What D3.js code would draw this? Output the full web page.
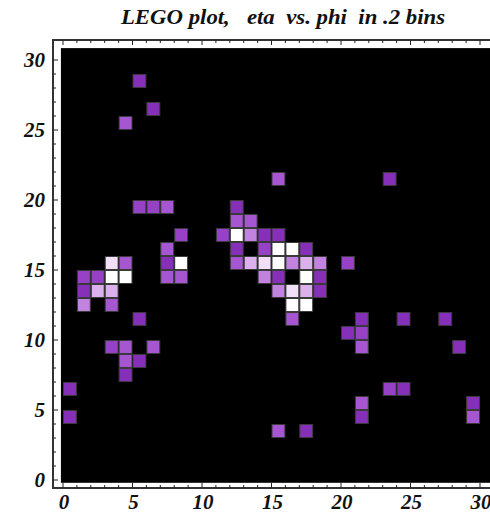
<!DOCTYPE html>
<html>
<head>
<meta charset="utf-8">
<script src="https://cdn.jsdelivr.net/npm/d3@7"></script>
<style>
  html, body { margin: 0; padding: 0; background: #fff; }
  svg { display: block; }
  .lbl { font-family: "Liberation Serif", "DejaVu Serif", serif; font-weight: bold; font-style: italic; }
</style>
</head>
<body>
<svg id="chart" width="490" height="513"></svg>
<script>
// Occupied (phi, eta) bins and their hit level (1 = dark purple ... 7 = white)
const phiBins = [5, 6, 4, 5, 6, 7, 8, 11, 12, 12, 13,
  12, 13, 14, 15,
  7, 12, 14, 15, 16, 17,
  3, 4, 7, 8, 12, 13, 14, 15, 16, 17, 18, 20,
  1, 2, 3, 4, 7, 8, 14, 15, 17, 18,
  1, 2, 3, 15, 16, 17, 18,
  1, 3, 16, 17,
  5, 16, 21, 24, 27,
  20, 21,
  3, 4, 6, 21, 28,
  4, 5,
  4,
  0, 23, 24,
  21, 29,
  0, 21, 29,
  15, 17,
  15, 23];
const etaBins = [28, 26, 25, 19, 19, 19, 17, 17, 19, 18, 18,
  17, 17, 17, 17,
  16, 16, 16, 16, 16, 16,
  15, 15, 15, 15, 15, 15, 15, 15, 15, 15, 15, 15,
  14, 14, 14, 14, 14, 14, 14, 14, 14, 14,
  13, 13, 13, 13, 13, 13, 13,
  12, 12, 12, 12,
  11, 11, 11, 11, 11,
  10, 10,
  9, 9, 9, 9, 9,
  8, 8,
  7,
  6, 6, 6,
  5, 5,
  4, 4, 4,
  3, 3,
  21, 21];
const levels = [1, 1, 3, 2, 2, 3, 2, 2, 1, 3, 3,
  7, 4, 1, 1,
  3, 1, 2, 7, 7, 1,
  6, 3, 1, 7, 3, 5, 6, 7, 4, 5, 4, 2,
  2, 2, 7, 7, 3, 3, 4, 1, 7, 1,
  1, 5, 5, 4, 6, 5, 1,
  4, 3, 7, 7,
  1, 3, 1, 1, 1,
  1, 2,
  2, 3, 3, 3, 1,
  3, 1,
  1,
  1, 2, 1,
  3, 1,
  1, 1, 3,
  3, 1,
  3, 1];
const xTickLabels = [0, 5, 10, 15, 20, 25, 30];
const yTickLabels = [0, 5, 10, 15, 20, 25, 30];
const title = "LEGO plot,   eta  vs. phi  in .2 bins";

const cells = phiBins.map((p, i) => ({ phi: p, eta: etaBins[i], level: levels[i] }));

const svg = d3.select("#chart");
const x = d3.scaleLinear().domain([0, 30]).range([63, 480]);
const y = d3.scaleLinear().domain([0, 30]).range([480, 60]);

const color = d3.scaleOrdinal()
  .domain([1, 2, 3, 4, 5, 6, 7])
  .range(["#8630ba", "#9641c6", "#a656d1", "#c283df", "#dcb0ec", "#f1def9", "#ffffff"]);

// frame
const frameLeft = 53, frameTop = 40, frameBottom = 488, frameRight = 498;
svg.append("rect")
  .attr("x", frameLeft).attr("y", frameTop)
  .attr("width", frameRight - frameLeft).attr("height", frameBottom - frameTop)
  .attr("fill", "#fff").attr("stroke", "#333").attr("stroke-width", 2);

// black plotting field
svg.append("rect")
  .attr("x", x(-0.15)).attr("y", y(30.85))
  .attr("width", x(31) - x(-0.15)).attr("height", y(-0.2) - y(30.85))
  .attr("fill", "#000");

// bins
svg.append("g").selectAll("rect")
  .data(cells)
  .join("rect")
  .attr("x", d => x(d.phi) + 0.5)
  .attr("y", d => y(d.eta + 1) + 0.5)
  .attr("width", d => x(d.phi + 1) - x(d.phi) - 1)
  .attr("height", d => y(d.eta) - y(d.eta + 1) - 1)
  .attr("fill", d => color(d.level))
  .attr("stroke", "#3a3a3a")
  .attr("stroke-width", 1);

// ticks on the frame, pointing inward
const ticks = d3.range(0, 31);
const tg = svg.append("g").attr("stroke", "#222").attr("stroke-width", 1);
ticks.forEach(t => {
  const len = t % 5 === 0 ? 5 : 3;
  tg.append("line").attr("x1", x(t)).attr("x2", x(t)).attr("y1", frameTop).attr("y2", frameTop + len);
  tg.append("line").attr("x1", x(t)).attr("x2", x(t)).attr("y1", frameBottom).attr("y2", frameBottom - len);
  tg.append("line").attr("y1", y(t)).attr("y2", y(t)).attr("x1", frameLeft).attr("x2", frameLeft + len);
});

// tick labels
svg.append("g").selectAll("text")
  .data(xTickLabels)
  .join("text")
  .attr("class", "lbl")
  .attr("x", d => x(d) + 1)
  .attr("y", 509)
  .attr("text-anchor", "middle")
  .attr("font-size", 21)
  .attr("fill", "#111")
  .text(d => d);

svg.append("g").selectAll("text")
  .data(yTickLabels)
  .join("text")
  .attr("class", "lbl")
  .attr("x", 45)
  .attr("y", d => y(d))
  .attr("dy", "0.35em")
  .attr("text-anchor", "end")
  .attr("font-size", 21)
  .attr("fill", "#111")
  .text(d => d);

// title, slightly widened
svg.append("text")
  .attr("class", "lbl")
  .attr("transform", "translate(283,24) scale(1.14,1)")
  .attr("text-anchor", "middle")
  .attr("font-size", 20)
  .attr("fill", "#111")
  .style("white-space", "pre")
  .text(title);
</script>
</body>
</html>
